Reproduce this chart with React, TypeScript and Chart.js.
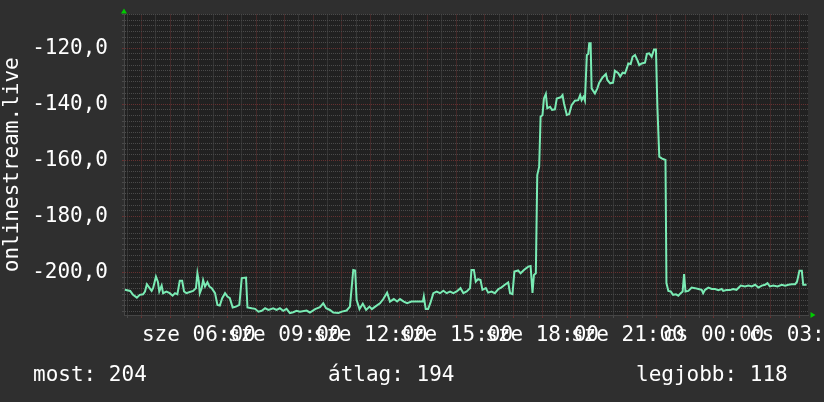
import React, { useEffect, useRef } from 'react';
import { Chart, registerables } from 'chart.js';

Chart.register(...registerables);

// time in minutes since "sze 00:00"
const minutes = [
  205, 216, 222, 230, 236, 243, 247, 251, 256, 261, 264, 270, 274, 277, 282, 285, 292, 299, 305, 310,
  315, 320, 325, 329, 334, 341, 348, 354, 357, 360, 362, 366, 369, 373, 378, 382, 387, 394, 399, 404,
  409, 415, 420, 425, 431, 438, 445, 450, 459, 462, 471, 478, 485, 492, 499, 506, 516, 523, 530, 537,
  544, 551, 558, 565, 572, 586, 593, 604, 614, 621, 627, 635, 642, 653, 660, 670, 677, 684, 688, 691,
  697, 704, 711, 718, 723, 730, 740, 747, 755, 761, 769, 776, 782, 790, 797, 806, 817, 830, 832, 836,
  841, 846, 852, 859, 866, 873, 880, 887, 894, 901, 909, 915, 922, 929, 932, 937, 941, 946, 951, 955,
  962, 967, 974, 981, 988, 995, 1002, 1009, 1013, 1018, 1022, 1030, 1035, 1042, 1051, 1056, 1060, 1063, 1067, 1070,
  1074, 1077, 1081, 1084, 1088, 1091, 1097, 1101, 1107, 1111, 1119, 1123, 1126, 1132, 1137, 1142, 1149, 1156, 1160, 1163,
  1167, 1170, 1174, 1177, 1179, 1182, 1184, 1187, 1191, 1196, 1200, 1207, 1214, 1217, 1223, 1229, 1233, 1240, 1244, 1249,
  1254, 1258, 1261, 1266, 1270, 1275, 1280, 1284, 1289, 1296, 1300, 1305, 1310, 1315, 1319, 1322, 1326, 1331, 1339, 1341,
  1345, 1350, 1355, 1361, 1366, 1371, 1375, 1378, 1381, 1387, 1394, 1401, 1408, 1415, 1418, 1422, 1429, 1436, 1443, 1450,
  1457, 1460, 1467, 1474, 1481, 1488, 1497, 1506, 1513, 1520, 1527, 1534, 1541, 1548, 1553, 1558, 1565, 1574, 1583, 1590,
  1597, 1604, 1611, 1615, 1620, 1625, 1628, 1635,
];

const values = [
  -206.3, -206.7, -208.1, -209.1, -208.1, -207.9, -206.9, -204.3, -205.5, -206.7, -205.7, -201.6, -203.4, -206.9, -204.8, -207.5, -206.9, -207.5, -208.4, -207.5,
  -207.9, -203.1, -203.1, -206.9, -207.5, -207.1, -206.7, -205.7, -200.4, -203.4, -207.5, -205.7, -202.8, -205.1, -203.6, -205.1, -205.7, -207.5, -211.7, -211.9,
  -209.3, -207.5, -208.7, -209.3, -212.6, -212.3, -211.7, -202.1, -201.9, -212.6, -212.9, -213.1, -214.1, -213.8, -212.9, -213.5, -212.9, -213.5, -212.9, -213.8,
  -213.1, -214.6, -214.3, -213.8, -214.1, -213.7, -214.4, -213.2, -212.5, -211.1, -212.9, -213.5, -214.4, -214.6, -214.1, -213.7, -212.3, -199.2, -199.4, -209.9,
  -213.2, -211.3, -213.5, -212.3, -213.2, -212.3, -211.1, -209.6, -207.3, -210.5, -209.6, -210.5, -209.6, -210.5, -211.1, -210.5, -210.5, -210.5, -208.7, -213.2,
  -213.2, -210.9, -207.5, -206.9, -207.5, -206.6, -207.5, -206.9, -207.5, -206.9, -205.7, -207.5, -206.9, -205.7, -199.2, -199.2, -203.4, -202.5, -202.8, -206.3,
  -205.7, -207.3, -206.9, -207.5, -206.1, -205.4, -204.5, -203.7, -207.5, -207.8, -199.8, -199.4, -200.4, -199.2, -198.0, -197.8, -207.4, -201.0, -200.4, -165.3,
  -162.3, -144.4, -143.8, -137.9, -136.3, -141.4, -140.9, -142.0, -141.8, -137.9, -137.5, -136.7, -139.6, -143.8, -143.5, -140.3, -138.7, -138.5, -136.7, -138.5,
  -137.3, -138.7, -122.4, -122.0, -118.2, -118.2, -134.3, -135.1, -136.1, -134.3, -132.3, -130.4, -129.2, -131.3, -132.5, -132.3, -128.0, -128.9, -130.1, -128.7,
  -128.9, -127.1, -125.4, -125.6, -123.0, -122.4, -124.2, -126.0, -125.4, -125.1, -122.0, -121.8, -123.0, -120.4, -120.4, -140.9, -158.7, -159.3, -159.9, -203.9,
  -206.7, -206.9, -208.1, -207.9, -208.4, -207.5, -206.9, -200.7, -206.9, -206.7, -205.5, -205.7, -206.0, -206.3, -207.5, -206.3, -205.5, -206.0, -206.0, -206.4,
  -206.0, -206.7, -206.4, -206.4, -206.0, -206.3, -204.8, -205.1, -204.8, -205.1, -204.5, -205.5, -204.8, -204.5, -203.9, -205.1, -204.8, -205.1, -204.5, -204.8,
  -204.5, -204.3, -204.3, -203.4, -199.5, -199.5, -204.5, -204.5,
];

const dayNames = ['sze', 'cs'];
const yAxisTitle = 'onlinestream.live';
const legendLabels = ['most', 'átlag', 'legjobb'];
const legendValues = [204, 194, 118];

const X_MIN = 203;
const X_MAX = 1638;
const Y_MIN = -215.3;
const Y_MAX = -107.9;

const FONT = 'DejaVu Sans Mono';
const BG = '#2f2f2f';
const CANVAS_BG = '#212121';
const MINOR = '#4a4a4a';
const MAJOR = '#663030';
const LINE = '#7aebb4';
const ARROW = '#00cc00';

const pad2 = (n: number) => (n < 10 ? '0' + n : '' + n);

const decorPlugin = {
  id: 'decor',
  beforeDraw(chart: any) {
    const { ctx, chartArea, width, height } = chart;
    ctx.save();
    ctx.fillStyle = BG;
    ctx.fillRect(0, 0, width, height);
    ctx.fillStyle = CANVAS_BG;
    ctx.fillRect(chartArea.left, chartArea.top, chartArea.right - chartArea.left, chartArea.bottom - chartArea.top);
    ctx.restore();
  },
  afterDraw(chart: any) {
    const { ctx, chartArea } = chart;
    ctx.save();
    // arrows
    ctx.fillStyle = ARROW;
    ctx.beginPath();
    ctx.moveTo(chartArea.left - 3, chartArea.top - 1);
    ctx.lineTo(chartArea.left + 3, chartArea.top - 1);
    ctx.lineTo(chartArea.left, chartArea.top - 6);
    ctx.closePath();
    ctx.fill();
    ctx.beginPath();
    ctx.moveTo(chartArea.right + 2.5, chartArea.bottom - 3);
    ctx.lineTo(chartArea.right + 2.5, chartArea.bottom + 3);
    ctx.lineTo(chartArea.right + 7.5, chartArea.bottom);
    ctx.closePath();
    ctx.fill();
    // legend
    ctx.fillStyle = '#ffffff';
    ctx.font = `21px "${FONT}"`;
    ctx.textBaseline = 'alphabetic';
    ctx.textAlign = 'left';
    const xs = [33, 328, 636];
    legendLabels.forEach((l, i) => {
      ctx.fillText(`${l}: ${legendValues[i]}`, xs[i], 381);
    });
    ctx.restore();
  },
};

export default function App() {
  const ref = useRef<HTMLCanvasElement | null>(null);
  useEffect(() => {
    document.body.style.margin = '0';
    document.body.style.background = BG;
    const data = minutes.map((m, i) => ({ x: m, y: values[i] }));
    const chart = new Chart(ref.current as HTMLCanvasElement, {
      type: 'line',
      data: {
        datasets: [
          {
            data,
            borderColor: LINE,
            borderWidth: 2,
            pointRadius: 0,
            tension: 0,
            fill: false,
          },
        ],
      },
      options: {
        animation: false,
        responsive: false,
        devicePixelRatio: 1,
        layout: { padding: { top: 14.5, right: 16, bottom: 0, left: 0 } },
        plugins: { legend: { display: false }, tooltip: { enabled: false } },
        scales: {
          x: {
            type: 'linear',
            min: X_MIN,
            max: X_MAX,
            afterFit: (s: any) => {
              s.height = 87;
              s.paddingLeft = 0;
              s.paddingRight = 0;
            },
            grid: {
              color: (c: any) => (c.tick && c.tick.value % 60 === 0 ? MAJOR : MINOR),
              tickLength: 3,
              drawTicks: true,
            },
            border: { display: true, color: '#464646', dash: [1, 1] },
            ticks: {
              stepSize: 30,
              includeBounds: false,
              autoSkip: false,
              maxRotation: 0,
              minRotation: 0,
              padding: 5,
              color: '#ffffff',
              font: { family: FONT, size: 21 },
              callback: (v: any) => {
                const m = Number(v);
                if (m % 180 !== 0) return '';
                const day = dayNames[Math.floor(m / 1440)];
                const h = Math.floor((m % 1440) / 60);
                return `${day} ${pad2(h)}:00`;
              },
            },
          },
          y: {
            type: 'linear',
            min: Y_MIN,
            max: Y_MAX,
            afterFit: (s: any) => {
              s.width = 124;
              s.paddingTop = 0;
              s.paddingBottom = 0;
            },
            grid: {
              color: (c: any) => (c.tick && c.tick.value % 20 === 0 ? MAJOR : MINOR),
              tickLength: 2,
              drawTicks: true,
            },
            border: { display: true, color: '#464646', dash: [1, 1] },
            title: {
              display: true,
              text: yAxisTitle,
              color: '#ffffff',
              font: { family: FONT, size: 21 },
              padding: { top: 0, bottom: 0 },
            },
            ticks: {
              stepSize: 2,
              includeBounds: false,
              autoSkip: false,
              padding: 14,
              color: '#ffffff',
              font: { family: FONT, size: 21 },
              callback: (v: any) => {
                const n = Number(v);
                if (n % 20 !== 0) return '';
                return n.toFixed(1).replace('.', ',');
              },
            },
          },
        },
      },
      plugins: [decorPlugin],
    });
    return () => chart.destroy();
  }, []);
  return <canvas ref={ref} width={824} height={402} style={{ display: 'block', width: 824, height: 402 }} />;
}
